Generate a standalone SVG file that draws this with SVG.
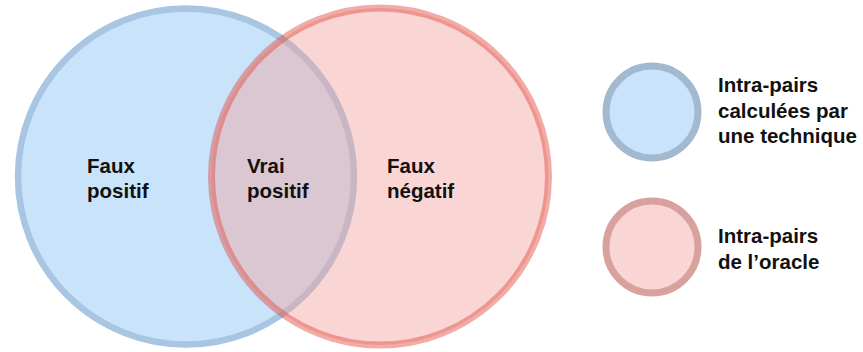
<svg xmlns="http://www.w3.org/2000/svg" width="863" height="352" viewBox="0 0 863 352">
<style>
.t{font-family:"Liberation Sans",Arial,sans-serif;font-weight:bold;font-size:20.5px;fill:#111}
.blue{fill:#c8e3fa;stroke:#a8c5e2;stroke-width:6.5}
.red{fill:rgba(242,164,159,0.45);stroke:rgba(227,70,60,0.45);stroke-width:7}
</style>
<rect width="863" height="352" fill="#fff"/>
<g id="set-technique"><circle class="blue" cx="186" cy="176.5" r="168"/></g>
<g id="set-oracle"><circle class="red" cx="380" cy="176.5" r="168.5"/></g>
<g id="label-fp"><text class="t" x="87" y="173">Faux</text><text class="t" x="87" y="198">positif</text></g>
<g id="label-vp"><text class="t" x="247" y="173">Vrai</text><text class="t" x="247" y="198">positif</text></g>
<g id="label-fn"><text class="t" x="387" y="173">Faux</text><text class="t" x="387" y="198">négatif</text></g>
<g id="legend-technique"><circle cx="652" cy="112" r="46" fill="#c8e3fb" stroke="#a3b9d0" stroke-width="7"/>
<text class="t" x="718" y="92">Intra-pairs</text><text class="t" x="718" y="117.5">calculées par</text><text class="t" x="718" y="143">une technique</text></g>
<g id="legend-oracle"><circle cx="652" cy="247" r="46" fill="#f9d5d3" stroke="#d9a19d" stroke-width="7"/>
<text class="t" x="718" y="243">Intra-pairs</text><text class="t" x="718" y="268.5">de l’oracle</text></g>
<g id="connectors"/>
</svg>
